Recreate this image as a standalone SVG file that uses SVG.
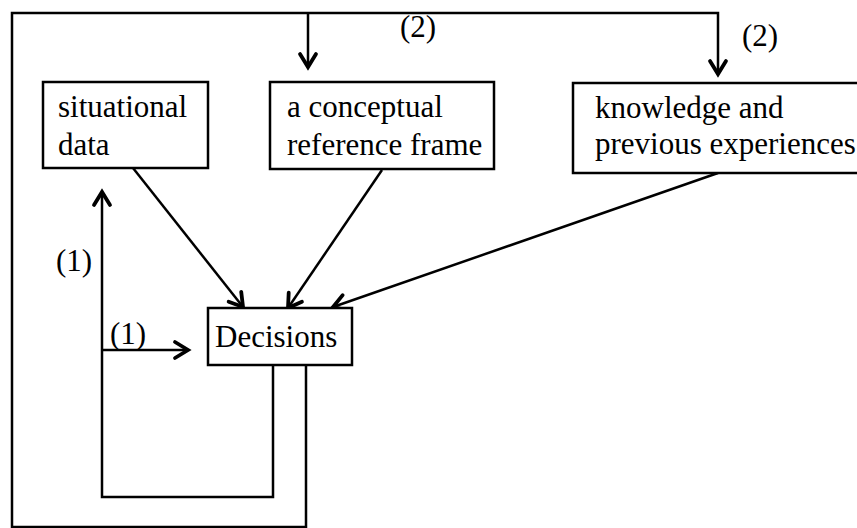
<svg xmlns="http://www.w3.org/2000/svg" width="857" height="528" viewBox="0 0 857 528">
  <defs>
    <style>
      .box { fill: #fff; stroke: #000; stroke-width: 2.5; }
      .lbl { font-family: "Liberation Serif", "Times New Roman", serif; font-size: 31px; fill: #000; }
      .wire { fill: none; stroke: #000; stroke-width: 2.5; stroke-linejoin: miter; }
    </style>
    <marker id="head" markerUnits="userSpaceOnUse" markerWidth="30" markerHeight="30" refX="0" refY="0" viewBox="-16 -15 20 30" orient="auto">
      <path d="M-13,-8 L0,0 L-13,8" fill="none" stroke="#000" stroke-width="3.8" stroke-linejoin="miter" stroke-linecap="round"/>
    </marker>
  </defs>
  <rect width="857" height="528" fill="#fff"/>

  <g id="connectors">
    <!-- outer feedback loop (2) -->
    <path class="wire" d="M306,365 V527 H12 V13 H718 V74" marker-end="url(#head)"/>
    <path class="wire" d="M308,13 V67" marker-end="url(#head)"/>
    <!-- inner feedback loop (1) -->
    <path class="wire" d="M273,365 V497 H102 V192" marker-end="url(#head)"/>
    <path class="wire" d="M102,350 H188" marker-end="url(#head)"/>
    <!-- inputs to decisions -->
    <path class="wire" d="M133,168 L243,307" marker-end="url(#head)"/>
    <path class="wire" d="M382,170 L288,308" marker-end="url(#head)"/>
    <path class="wire" d="M718,173 L333,307" marker-end="url(#head)"/>
  </g>

  <g id="labels">
    <text class="lbl" x="400" y="37">(2)</text>
    <text class="lbl" x="742" y="46">(2)</text>
    <text class="lbl" x="56" y="271">(1)</text>
    <text class="lbl" x="110" y="344">(1)</text>
  </g>

  <g id="situational-data">
    <rect class="box" x="43" y="82" width="165" height="86"/>
    <text class="lbl" x="58" y="117">situational</text>
    <text class="lbl" x="58" y="155">data</text>
  </g>

  <g id="reference-frame">
    <rect class="box" x="270" y="82" width="224" height="87"/>
    <text class="lbl" x="287" y="117">a conceptual</text>
    <text class="lbl" x="287" y="155">reference frame</text>
  </g>

  <g id="knowledge">
    <rect class="box" x="573" y="83" width="300" height="90"/>
    <text class="lbl" x="595" y="118">knowledge and</text>
    <text class="lbl" x="595" y="154">previous experiences</text>
  </g>

  <g id="decisions">
    <rect class="box" x="208" y="308" width="144" height="57"/>
    <text class="lbl" x="215" y="347">Decisions</text>
  </g>
</svg>
